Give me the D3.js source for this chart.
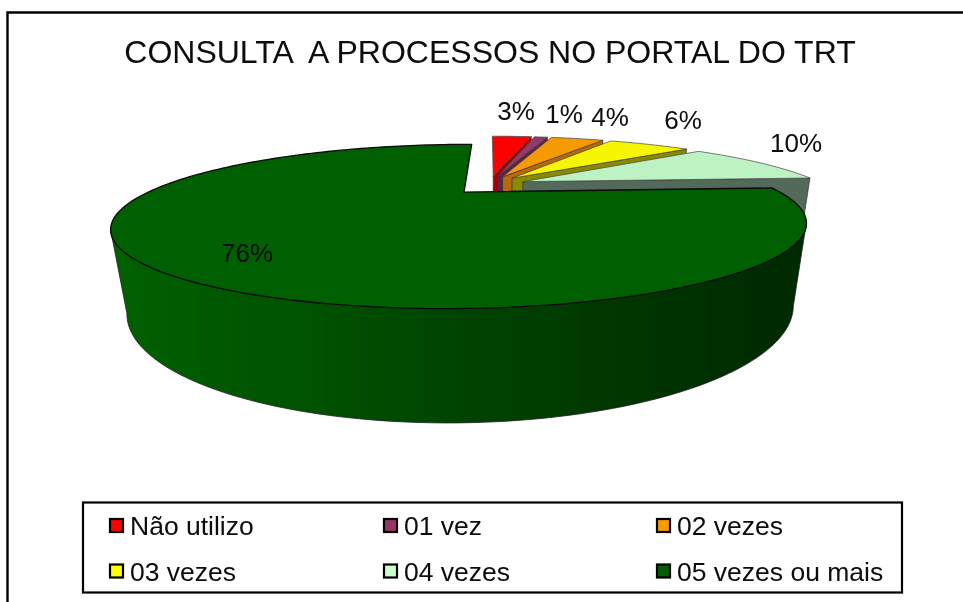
<!DOCTYPE html>
<html>
<head>
<meta charset="utf-8">
<style>
  html, body { margin: 0; padding: 0; background: #fff; }
  svg { display: block; }
  text { font-family: "Liberation Sans", Arial, sans-serif; fill: #0a0a0a; }
</style>
<script src="https://cdn.jsdelivr.net/npm/d3@7"></script>
</head>
<body>
<svg id="chart" width="963" height="602"></svg>
<script>
var categories = ['Não utilizo', '01 vez', '02 vezes', '03 vezes', '04 vezes', '05 vezes ou mais'];
var values = [3, 1, 4, 6, 10, 76];
var legendColors = ['#ff0000', '#993366', '#ff9900', '#ffff00', '#ccffcc', '#006000'];
var topColors = ['#fe0000', '#8e3a6a', '#f59a05', '#f6f600', '#bdf2c2', '#005f00'];
var sideColors = ['#a80000', '#5f2346', '#b8690a', '#8a8a00', '#53695a', '#004400'];

var svg = d3.select('#chart');
var defs = svg.append('defs');
defs.append('filter')
    .attr('id', 'soft')
    .attr('filterUnits', 'userSpaceOnUse')
    .attr('x', 0).attr('y', 0)
    .attr('width', 963).attr('height', 602)
    .append('feGaussianBlur').attr('stdDeviation', 0.4);

// the big wall gets darker from left to right
var grad = defs.append('linearGradient')
    .attr('id', 'wall')
    .attr('gradientUnits', 'userSpaceOnUse')
    .attr('x1', 110).attr('x2', 806).attr('y1', 0).attr('y2', 0);
[[0, '#066006'], [0.26, '#025402'], [0.49, '#004400'], [0.7, '#003800'], [1, '#002800']].forEach(function(s) {
    grad.append('stop').attr('offset', s[0]).attr('stop-color', s[1]);
});

var root = svg.append('g').attr('filter', 'url(#soft)');

// frame of the picture
root.append('path')
    .attr('d', 'M7.5,602V12.5H963')
    .attr('fill', 'none')
    .attr('stroke', '#000')
    .attr('stroke-width', 2.4);

root.append('text')
    .attr('x', 490).attr('y', 63)
    .attr('text-anchor', 'middle')
    .attr('font-size', 32)
    .style('white-space', 'pre')
    .text('CONSULTA  A PROCESSOS NO PORTAL DO TRT');

// perspective camera for the pie: X to the right, Y to the viewer, Z down
var cam = { px: 490, py: 185, sx: 302, sy: 62, hz: 71.9, k: 0.4, m: 0.035 };
var explodeX = 0.12;
var explodeY = 0.15;

function project(X, Y, Z) {
    var w = 1 - cam.k * Y + cam.m * Z;
    return [cam.px + cam.sx * X / w, cam.py + (cam.sy * Y + cam.hz * Z) / w];
}

var arcs = d3.pie().sort(null).startAngle(0).endAngle(2 * Math.PI)(values);

// point of a slice, r = 0 is its apex
function slicePoint(d, angle, r, z) {
    var mid = (d.startAngle + d.endAngle) / 2;
    var X = explodeX * Math.sin(mid) + r * Math.sin(angle);
    var Y = -explodeY * Math.cos(mid) - r * Math.cos(angle);
    return project(X, Y, z);
}

function rimAngles(d) {
    var steps = Math.max(8, Math.ceil((d.endAngle - d.startAngle) * 40));
    return d3.range(steps + 1).map(function(i) {
        return d.startAngle + (d.endAngle - d.startAngle) * i / steps;
    });
}

function xOf(p) { return p[0]; }

var line = d3.line();

var slices = root.selectAll('.slice')
    .data(arcs)
    .enter().append('g')
    .attr('class', 'slice');

slices.each(function(d, i) {
    var g = d3.select(this);
    var last = i === arcs.length - 1;
    var angles = rimAngles(d);
    var outer = angles.map(function(a) { return slicePoint(d, a, 1, 0); });
    var outerLow = angles.map(function(a) { return slicePoint(d, a, 1, 1); });

    // rim wall, only the stretch between the side extremes faces the viewer
    var from = d3.greatestIndex(outer, xOf);
    var to = d3.leastIndex(outer, xOf);
    var fromLow = d3.greatestIndex(outerLow, xOf);
    var toLow = d3.leastIndex(outerLow, xOf);
    if (from < to) {
        var rim = outer.slice(from, to + 1).concat(outerLow.slice(fromLow, toLow + 1).reverse());
        g.append('path')
            .attr('d', line(rim) + 'Z')
            .attr('fill', last ? 'url(#wall)' : sideColors[i])
            .attr('stroke', '#222')
            .attr('stroke-width', 0.8);
    }

    // cut wall at the end angle, faces the viewer for the small slices
    if (!last) {
        var wall = [
            slicePoint(d, d.endAngle, 0, 0),
            slicePoint(d, d.endAngle, 1, 0),
            slicePoint(d, d.endAngle, 1, 1),
            slicePoint(d, d.endAngle, 0, 1)
        ];
        g.append('path')
            .attr('d', line(wall) + 'Z')
            .attr('fill', sideColors[i])
            .attr('stroke', '#333')
            .attr('stroke-width', 0.7);
    }

    // top face
    var apex = slicePoint(d, d.startAngle, 0, 0);
    g.append('path')
        .attr('d', line([apex].concat(outer)) + 'Z')
        .attr('fill', topColors[i])
        .attr('stroke', last ? '#0a0a0a' : '#444')
        .attr('stroke-width', last ? 1.3 : 0.7)
        .attr('stroke-linejoin', 'round');
});

var labelPos = [[516, 120], [564, 123], [610, 126], [683, 129], [796, 152], [247, 262]];
root.selectAll('.pct')
    .data(values)
    .enter().append('text')
    .attr('class', 'pct')
    .attr('x', function(d, i) { return labelPos[i][0]; })
    .attr('y', function(d, i) { return labelPos[i][1]; })
    .attr('text-anchor', 'middle')
    .attr('font-size', 26)
    .text(function(d) { return d + '%'; });

// legend
root.append('rect')
    .attr('x', 83).attr('y', 502.5)
    .attr('width', 819).attr('height', 90)
    .attr('fill', '#fff')
    .attr('stroke', '#000')
    .attr('stroke-width', 2.2);

var legendX = d3.scaleOrdinal().domain([0, 1, 2]).range([110, 384, 657]);
var legendY = d3.scaleOrdinal().domain([0, 1]).range([519, 564.5]);

var items = root.selectAll('.legend-item')
    .data(categories)
    .enter().append('g')
    .attr('class', 'legend-item')
    .attr('transform', function(d, i) {
        return 'translate(' + legendX(i % 3) + ',' + legendY(Math.floor(i / 3)) + ')';
    });

items.append('rect')
    .attr('width', 13).attr('height', 13)
    .attr('fill', function(d, i) { return legendColors[i]; })
    .attr('stroke', '#000')
    .attr('stroke-width', 2.2);

items.append('text')
    .attr('x', 20).attr('y', 16)
    .attr('font-size', 26.5)
    .text(function(d) { return d; });
</script>
</body>
</html>
